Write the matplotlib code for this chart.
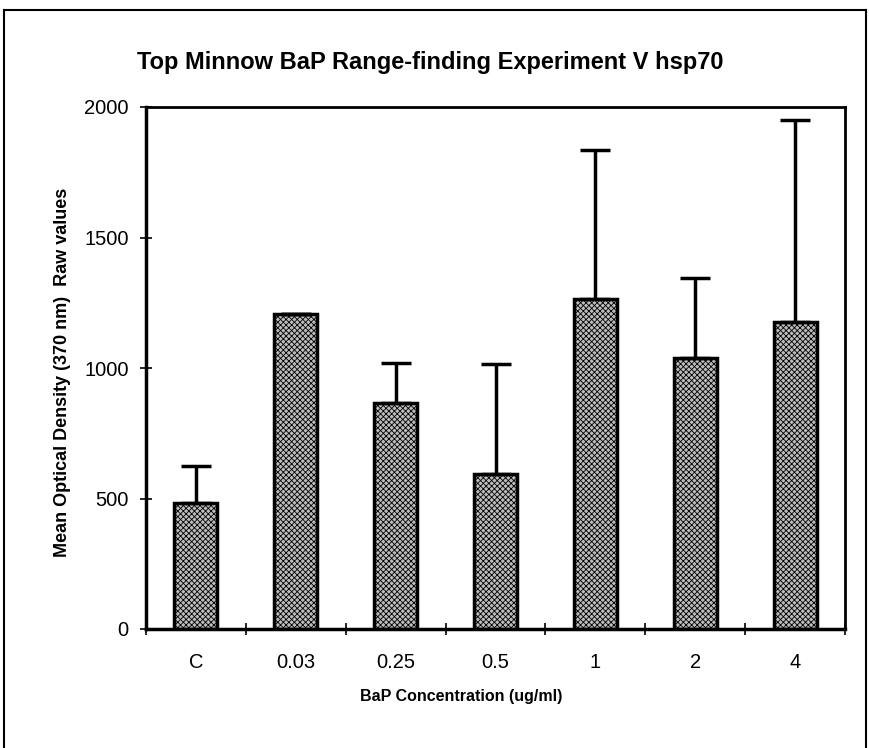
import matplotlib
matplotlib.use("Agg")
import matplotlib.pyplot as plt
from matplotlib.ticker import FixedLocator
import numpy as np

categories = ["C", "0.03", "0.25", "0.5", "1", "2", "4"]
means = [483, 1208, 865, 594, 1265, 1040, 1175]
errors = [140, 0, 153, 421, 570, 306, 777]

plt.rcParams["font.family"] = ["Liberation Sans", "DejaVu Sans"]
plt.rcParams["hatch.linewidth"] = 0.6

W, H = 869, 748
fig = plt.figure(figsize=(W / 100, H / 100), dpi=100)
ax = fig.add_axes([146 / W, 1 - 629 / H, (845 - 146) / W, (629 - 107) / H])

x = np.arange(len(categories))
ax.bar(x, means, width=0.43, facecolor="#bdbdbd", edgecolor="black",
       hatch="xxxxxx", linewidth=2.5, zorder=2)
# upper error bars only
ax.errorbar(x, means, yerr=[np.zeros(len(errors)), errors], fmt="none",
            ecolor="black", elinewidth=2.5, capsize=11, capthick=2.5, zorder=3)

ax.set_xlim(-0.5, len(categories) - 0.5)
ax.set_ylim(0, 2000)
ax.set_yticks([0, 500, 1000, 1500, 2000])
ax.set_xticks(x)
ax.set_xticklabels(categories)
ax.xaxis.set_minor_locator(FixedLocator(np.arange(-0.5, len(categories), 1.0)))
ax.tick_params(axis="x", which="major", length=0, pad=17, labelsize=14.5)
ax.tick_params(axis="x", which="minor", direction="inout", length=9, width=1.2)
ax.tick_params(axis="y", direction="inout", length=9, width=1.2, labelsize=14.5, pad=8)

for side in ["left", "bottom"]:
    ax.spines[side].set_linewidth(2.5)
for side in ["top", "right"]:
    ax.spines[side].set_linewidth(2.0)

fig.text(461 / W, 1 - 697 / H, "BaP Concentration (ug/ml)", ha="center", va="center",
         fontsize=11.5, fontweight="bold")
fig.text(63 / W, 1 - 372 / H, "Mean Optical Density (370 nm)  Raw values", rotation=90,
         ha="center", va="center", fontsize=13, fontweight="bold")
fig.text(430 / W, 1 - 63 / H, "Top Minnow BaP Range-finding Experiment V hsp70",
         ha="center", va="center", fontsize=17, fontweight="bold")

# outer frame of the figure
frame = dict(color="black", lw=1.5, transform=fig.transFigure)
fig.add_artist(plt.Line2D([4 / W, 4 / W], [0, 1 - 10 / H], **frame))
fig.add_artist(plt.Line2D([4 / W, 866 / W], [1 - 10 / H, 1 - 10 / H], **frame))
fig.add_artist(plt.Line2D([866 / W, 866 / W], [0, 1 - 10 / H], **frame))

fig.savefig("out.png", dpi=100)
